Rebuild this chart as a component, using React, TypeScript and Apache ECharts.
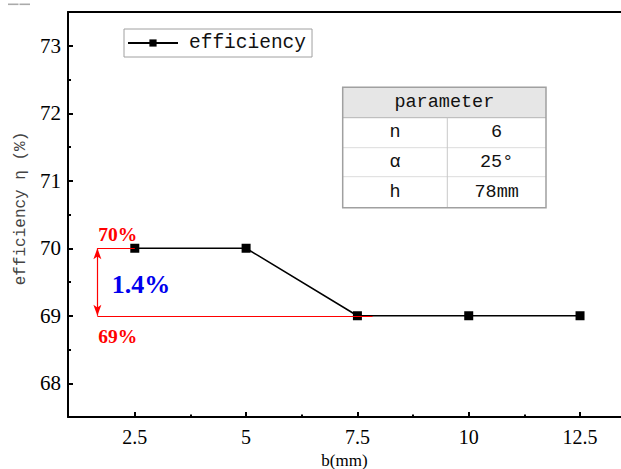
import React, { useEffect, useRef } from "react";
import * as echarts from "echarts";

const bValues = [2.5, 5, 7.5, 10, 12.5];
const efficiency = [70, 70, 69, 69, 69];
const xTickValues = [2.5, 5, 7.5, 10, 12.5];
const xMinorTicks = [3.75, 6.25, 8.75, 11.25];
const yTickValues = [68, 69, 70, 71, 72, 73];
const yMinorTicks = [68.5, 69.5, 70.5, 71.5, 72.5];
const xRange = [1, 13.42];
const yRange = [67.5, 73.5];
const seriesName = "efficiency";
const tableHeader = "parameter";
const tableRows = [
  ["n", "6"],
  ["α", "25°"],
  ["h", "78mm"],
];
const upperLevel = 70;
const lowerLevel = 69;
const upperLabel = "70%";
const lowerLabel = "69%";
const diffLabel = "1.4%";
const arrowX = 1.66;
const lowerLineEnd = 7.84;

export default function App() {
  const ref = useRef<HTMLDivElement>(null);
  useEffect(() => {
    if (!ref.current) return;
    const chart = echarts.init(ref.current, null, { renderer: "svg" });

    const serif = "'Liberation Serif', 'Times New Roman', serif";
    const mono = "'Liberation Mono', 'Courier New', monospace";

    const tableX = 342.7;
    const tableW = 203.3;
    const colX = 447.3;
    const rowYs = [87.3, 117.7, 147.7, 176.7, 207.7];
    const tableGraphics: any[] = [
      { type: "rect", shape: { x: tableX, y: rowYs[0], width: tableW, height: rowYs[1] - rowYs[0] }, style: { fill: "#e6e6e6" }, z: 10 },
      { type: "line", shape: { x1: tableX, y1: rowYs[1], x2: tableX + tableW, y2: rowYs[1] }, style: { stroke: "#b4b4b4", lineWidth: 1 }, z: 11 },
      { type: "line", shape: { x1: tableX, y1: rowYs[2], x2: tableX + tableW, y2: rowYs[2] }, style: { stroke: "#dcdcdc", lineWidth: 1 }, z: 11 },
      { type: "line", shape: { x1: tableX, y1: rowYs[3], x2: tableX + tableW, y2: rowYs[3] }, style: { stroke: "#dcdcdc", lineWidth: 1 }, z: 11 },
      { type: "line", shape: { x1: colX, y1: rowYs[1], x2: colX, y2: rowYs[4] }, style: { stroke: "#c8c8c8", lineWidth: 1 }, z: 11 },
      { type: "rect", shape: { x: tableX, y: rowYs[0], width: tableW, height: rowYs[4] - rowYs[0] }, style: { fill: "none", stroke: "#a0a0a0", lineWidth: 1.5 }, z: 12 },
      {
        type: "text",
        x: tableX + tableW / 2,
        y: (rowYs[0] + rowYs[1]) / 2,
        style: { text: tableHeader, font: `18.5px ${mono}`, fill: "#111", align: "center", verticalAlign: "middle" },
        z: 13,
      },
    ];
    tableRows.forEach((row, i) => {
      const cy = (rowYs[i + 1] + rowYs[i + 2]) / 2;
      tableGraphics.push({
        type: "text",
        x: (tableX + colX) / 2,
        y: cy,
        style: { text: row[0], font: `18.5px ${mono}`, fill: "#111", align: "center", verticalAlign: "middle" },
        z: 13,
      });
      tableGraphics.push({
        type: "text",
        x: (colX + tableX + tableW) / 2,
        y: cy,
        style: { text: row[1], font: `18.5px ${mono}`, fill: "#111", align: "center", verticalAlign: "middle" },
        z: 13,
      });
    });

    const option: any = {
      animation: false,
      backgroundColor: "#ffffff",
      grid: { left: 68, top: 12, right: 0, bottom: 52, outerBoundsMode: "none", containLabel: false },
      legend: {
        data: [seriesName],
        left: 124,
        top: 29,
        padding: [4, 6, 4, 3],
        itemWidth: 50,
        itemHeight: 9,
        borderColor: "#a0a0a0",
        borderWidth: 1,
        textStyle: { fontFamily: mono, fontSize: 19.5, color: "#111", padding: [0, 0, 0, 6] },
      },
      xAxis: [
        {
          type: "value",
          min: xRange[0],
          max: xRange[1],
          position: "bottom",
          name: "b(mm)",
          nameLocation: "middle",
          nameGap: 30,
          nameTextStyle: { fontFamily: serif, fontSize: 17, lineHeight: 17, color: "#000" },
          axisLine: { show: true, lineStyle: { color: "#000", width: 2 } },
          axisTick: { show: true, inside: true, length: 5, customValues: xTickValues, lineStyle: { color: "#000", width: 2 } },
          axisLabel: { show: true, customValues: xTickValues, margin: 10, fontFamily: serif, fontSize: 20, color: "#000" },
          splitLine: { show: false },
        },
        {
          type: "value",
          min: xRange[0],
          max: xRange[1],
          position: "bottom",
          axisLine: { show: false },
          axisTick: { show: true, inside: true, length: 2.5, customValues: xMinorTicks, lineStyle: { color: "#000", width: 2 } },
          axisLabel: { show: false },
          splitLine: { show: false },
        },
        {
          type: "value",
          min: xRange[0],
          max: xRange[1],
          position: "top",
          axisLine: { show: true, lineStyle: { color: "#000", width: 2 } },
          axisTick: { show: false },
          axisLabel: { show: false },
          splitLine: { show: false },
        },
      ],
      yAxis: [
        {
          type: "value",
          min: yRange[0],
          max: yRange[1],
          position: "left",
          name: "efficiency η (%)",
          nameLocation: "middle",
          nameGap: 38,
          nameTextStyle: { fontFamily: mono, fontSize: 16, color: "#444", padding: [0, 0, 0, 12] },
          axisLine: { show: true, lineStyle: { color: "#000", width: 2 } },
          axisTick: { show: true, inside: true, length: 5, customValues: yTickValues, lineStyle: { color: "#000", width: 2 } },
          axisLabel: { show: true, customValues: yTickValues, margin: 7, fontFamily: serif, fontSize: 21, color: "#000" },
          splitLine: { show: false },
        },
        {
          type: "value",
          min: yRange[0],
          max: yRange[1],
          position: "left",
          axisLine: { show: false },
          axisTick: { show: true, inside: true, length: 3, customValues: yMinorTicks, lineStyle: { color: "#000", width: 2 } },
          axisLabel: { show: false },
          splitLine: { show: false },
        },
      ],
      series: [
        {
          name: seriesName,
          type: "line",
          xAxisIndex: 0,
          yAxisIndex: 0,
          data: bValues.map((b, i) => [b, efficiency[i]]),
          symbol: "rect",
          symbolSize: 9,
          lineStyle: { color: "#000", width: 1.5 },
          itemStyle: { color: "#000" },
          z: 3,
        },
        {
          name: "annotation",
          type: "line",
          xAxisIndex: 0,
          yAxisIndex: 0,
          data: [],
          z: 4,
          markLine: {
            silent: true,
            animation: false,
            label: { show: false },
            lineStyle: { color: "#ff0000", width: 1.2, type: "solid" },
            symbol: ["none", "none"],
            data: [
              [{ coord: [arrowX, upperLevel] }, { coord: [bValues[0], upperLevel] }],
              [{ coord: [arrowX, lowerLevel] }, { coord: [lowerLineEnd, lowerLevel] }],
              [
                { coord: [arrowX, upperLevel], symbol: "arrow", symbolSize: [6, 11] },
                { coord: [arrowX, lowerLevel], symbol: "arrow", symbolSize: [6, 11] },
              ],
            ],
          },
          markPoint: {
            silent: true,
            symbol: "circle",
            symbolSize: 1,
            itemStyle: { color: "rgba(0,0,0,0)" },
            data: [
              {
                coord: [2.12, 70.21],
                label: { show: true, position: "inside", formatter: upperLabel, color: "#ff0000", fontFamily: serif, fontWeight: "bold", fontSize: 19.5 },
              },
              {
                coord: [2.12, 68.7],
                label: { show: true, position: "inside", formatter: lowerLabel, color: "#ff0000", fontFamily: serif, fontWeight: "bold", fontSize: 19.5 },
              },
              {
                coord: [2.64, 69.46],
                label: { show: true, position: "inside", formatter: diffLabel, color: "#0000ee", fontFamily: serif, fontWeight: "bold", fontSize: 26 },
              },
            ],
          },
        },
      ],
      graphic: [
        { type: "rect", shape: { x: 8, y: 3.5, width: 10.5, height: 1.6 }, style: { fill: "#aaaaaa" } },
        { type: "rect", shape: { x: 19.5, y: 3.5, width: 10.5, height: 1.6 }, style: { fill: "#aaaaaa" } },
        ...tableGraphics,
      ],
    };
    chart.setOption(option);
    return () => chart.dispose();
  }, []);

  return (
    <div
      ref={ref}
      style={{ position: "fixed", left: 0, top: 0, width: 621, height: 469, background: "#fff" }}
    />
  );
}
